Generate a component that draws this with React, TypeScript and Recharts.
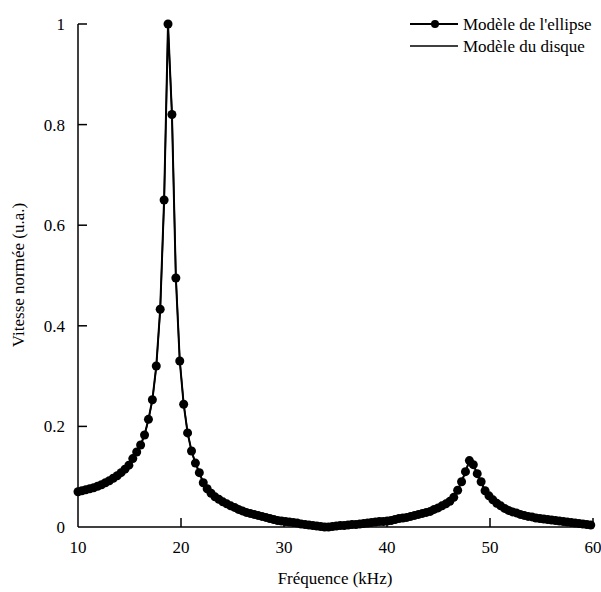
import React from 'react';
import { LineChart, Line, XAxis, YAxis, Label } from 'recharts';

// fréquences (kHz) des points de calcul
const frequencies = [
  10.0, 10.38, 10.76, 11.14, 11.52, 11.9, 12.28, 12.66, 13.04, 13.42,
  13.8, 14.18, 14.56, 14.94, 15.32, 15.7, 16.08, 16.46, 16.84, 17.22,
  17.6, 17.98, 18.36, 18.74, 19.12, 19.5, 19.88, 20.26, 20.64, 21.02,
  21.4, 21.78, 22.16, 22.54, 22.92, 23.3, 23.68, 24.06, 24.44, 24.82,
  25.2, 25.58, 25.96, 26.34, 26.72, 27.1, 27.48, 27.86, 28.24, 28.62,
  29.0, 29.38, 29.76, 30.14, 30.52, 30.9, 31.28, 31.66, 32.04, 32.42,
  32.8, 33.18, 33.56, 33.94, 34.32, 34.7, 35.08, 35.46, 35.84, 36.22,
  36.6, 36.98, 37.36, 37.74, 38.12, 38.5, 38.88, 39.26, 39.64, 40.02,
  40.4, 40.78, 41.16, 41.54, 41.92, 42.3, 42.68, 43.06, 43.44, 43.82,
  44.2, 44.58, 44.96, 45.34, 45.72, 46.1, 46.48, 46.86, 47.24, 47.62,
  48.0, 48.38, 48.76, 49.14, 49.52, 49.9, 50.28, 50.66, 51.04, 51.42,
  51.8, 52.18, 52.56, 52.94, 53.32, 53.7, 54.08, 54.46, 54.84, 55.22,
  55.6, 55.98, 56.36, 56.74, 57.12, 57.5, 57.88, 58.26, 58.64, 59.02,
  59.4, 59.78,
];

const ellipseModel = [
  0.070, 0.072, 0.074, 0.076, 0.078, 0.081, 0.084, 0.088, 0.092, 0.097,
  0.102, 0.108, 0.115, 0.123, 0.136, 0.149, 0.163, 0.183, 0.214, 0.253,
  0.320, 0.433, 0.650, 1.000, 0.820, 0.495, 0.330, 0.244, 0.187, 0.151,
  0.127, 0.108, 0.088, 0.076, 0.067, 0.060, 0.055, 0.050, 0.046, 0.042,
  0.039, 0.035, 0.032, 0.029, 0.027, 0.025, 0.023, 0.021, 0.019, 0.017,
  0.015, 0.013, 0.012, 0.011, 0.010, 0.009, 0.008, 0.006, 0.005, 0.004,
  0.003, 0.002, 0.001, 0.000, 0.000, 0.001, 0.002, 0.003, 0.003, 0.004,
  0.005, 0.005, 0.006, 0.007, 0.008, 0.009, 0.010, 0.011, 0.011, 0.012,
  0.013, 0.015, 0.017, 0.018, 0.019, 0.021, 0.023, 0.025, 0.027, 0.029,
  0.031, 0.035, 0.038, 0.042, 0.046, 0.051, 0.059, 0.073, 0.090, 0.110,
  0.132, 0.124, 0.106, 0.090, 0.072, 0.062, 0.054, 0.047, 0.042, 0.037,
  0.033, 0.030, 0.028, 0.025, 0.023, 0.021, 0.020, 0.018, 0.017, 0.016,
  0.015, 0.014, 0.013, 0.012, 0.011, 0.010, 0.009, 0.008, 0.007, 0.006,
  0.005, 0.004,
];

const diskModel = [
  0.070, 0.072, 0.074, 0.076, 0.078, 0.081, 0.084, 0.088, 0.092, 0.097,
  0.102, 0.108, 0.115, 0.123, 0.136, 0.149, 0.163, 0.183, 0.213, 0.252,
  0.318, 0.430, 0.645, 0.995, 0.825, 0.500, 0.332, 0.245, 0.188, 0.151,
  0.127, 0.108, 0.088, 0.076, 0.067, 0.060, 0.055, 0.050, 0.046, 0.042,
  0.039, 0.035, 0.032, 0.029, 0.027, 0.025, 0.023, 0.021, 0.019, 0.017,
  0.015, 0.013, 0.012, 0.011, 0.010, 0.009, 0.008, 0.006, 0.005, 0.004,
  0.003, 0.002, 0.001, 0.000, 0.000, 0.001, 0.002, 0.003, 0.003, 0.004,
  0.005, 0.005, 0.006, 0.007, 0.008, 0.009, 0.010, 0.011, 0.011, 0.012,
  0.013, 0.015, 0.017, 0.018, 0.019, 0.021, 0.023, 0.025, 0.027, 0.029,
  0.031, 0.035, 0.038, 0.042, 0.046, 0.051, 0.059, 0.073, 0.090, 0.110,
  0.131, 0.124, 0.106, 0.090, 0.072, 0.062, 0.054, 0.047, 0.042, 0.037,
  0.033, 0.030, 0.028, 0.025, 0.023, 0.021, 0.020, 0.018, 0.017, 0.016,
  0.015, 0.014, 0.013, 0.012, 0.011, 0.010, 0.009, 0.008, 0.007, 0.006,
  0.005, 0.004,
];

const xTicks = [10, 20, 30, 40, 50, 60];
const yTicks = [0, 0.2, 0.4, 0.6, 0.8, 1];
const yTickLabels = ['0', '0.2', '0.4', '0.6', '0.8', '1'];

const FONT = "'Liberation Serif', 'Times New Roman', Times, serif";
const textStyle = { fontFamily: FONT, fontSize: 17 };

const data = frequencies.map((f, i) => ({
  f,
  ellipse: ellipseModel[i],
  disk: diskModel[i],
}));

const XTick = (props: any) => {
  const { x, y, payload } = props;
  return (
    <g>
      {payload.value !== xTicks[0] && (
        <line x1={x} x2={x} y1={y} y2={y - 9} stroke="#000" strokeWidth={1.5} />
      )}
      <text x={x} y={y + 26} textAnchor="middle" style={textStyle} fill="#000">
        {payload.value}
      </text>
    </g>
  );
};

const YTick = (props: any) => {
  const { x, y, payload } = props;
  const idx = yTicks.indexOf(payload.value);
  return (
    <g>
      {payload.value !== yTicks[0] && (
        <line x1={x} x2={x + 9} y1={y} y2={y} stroke="#000" strokeWidth={1.5} />
      )}
      <text x={x - 13} y={y + 6} textAnchor="end" style={textStyle} fill="#000">
        {idx >= 0 ? yTickLabels[idx] : payload.value}
      </text>
    </g>
  );
};

const LegendBox = () => (
  <svg
    width={196}
    height={48}
    style={{ position: 'absolute', left: 405, top: 12, display: 'block' }}
  >
    <line x1={5} x2={53} y1={12} y2={12} stroke="#000" strokeWidth={2} />
    <circle cx={30} cy={12} r={4} fill="#000" />
    <text x={58} y={18} style={textStyle} fill="#000">Modèle de l'ellipse</text>
    <line x1={5} x2={53} y1={34} y2={34} stroke="#000" strokeWidth={1.5} />
    <text x={58} y={40} style={textStyle} fill="#000">Modèle du disque</text>
  </svg>
);

export default function App() {
  return (
    <div style={{ position: 'absolute', left: 0, top: 0, width: 601, height: 592, background: '#fff' }}>
      <LineChart
        width={601}
        height={592}
        data={data}
        margin={{ top: 24, right: 8, left: 18, bottom: 20 }}
      >
        <XAxis
          dataKey="f"
          type="number"
          domain={[10, 60]}
          ticks={xTicks}
          tickSize={0}
          tickMargin={0}
          tickLine={false}
          tick={<XTick />}
          height={45}
          axisLine={{ stroke: '#000', strokeWidth: 1.5 }}
          interval={0}
        >
          <Label
            content={() => (
              <text x={335} y={584} textAnchor="middle" style={textStyle} fill="#000">
                Fréquence (kHz)
              </text>
            )}
          />
        </XAxis>
        <YAxis
          type="number"
          domain={[0, 1]}
          ticks={yTicks}
          tickSize={0}
          tickMargin={0}
          tickLine={false}
          tick={<YTick />}
          width={60}
          axisLine={{ stroke: '#000', strokeWidth: 1.5 }}
          interval={0}
        >
          <Label
            content={() => (
              <text
                x={18}
                y={275}
                textAnchor="middle"
                style={textStyle}
                fill="#000"
                transform="rotate(-90, 18, 275)"
                dominantBaseline="central"
              >
                Vitesse normée (u.a.)
              </text>
            )}
          />
        </YAxis>
        <Line
          dataKey="disk"
          type="linear"
          stroke="#000"
          strokeWidth={1.5}
          dot={false}
          isAnimationActive={false}
        />
        <Line
          dataKey="ellipse"
          type="linear"
          stroke="#000"
          strokeWidth={2}
          dot={{ r: 4.5, fill: '#000', stroke: '#000', strokeWidth: 0 }}
          isAnimationActive={false}
        />
      </LineChart>
      <LegendBox />
    </div>
  );
}
